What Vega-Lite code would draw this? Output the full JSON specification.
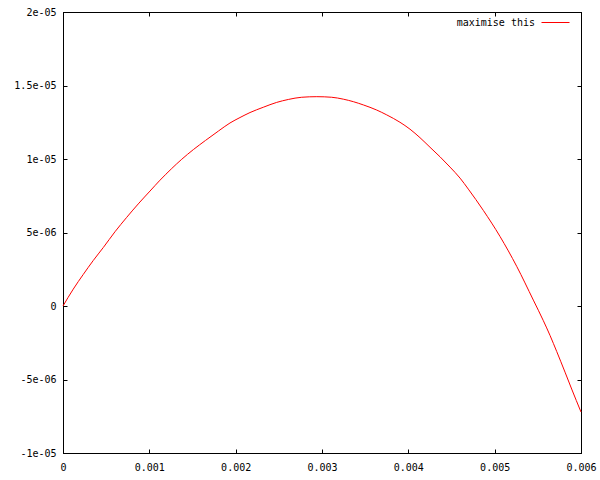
{
  "$schema": "https://vega.github.io/schema/vega-lite/v6.json",
  "width": 518,
  "height": 441,
  "autosize": {"type": "none"},
  "padding": {"left": 63, "top": 12, "right": 19, "bottom": 27},
  "background": "white",
  "config": {
    "view": {"stroke": "black", "strokeWidth": 1},
    "font": "DejaVu Sans Mono",
    "axis": {
      "domainColor": "black",
      "tickColor": "black",
      "labelColor": "black",
      "labelFont": "DejaVu Sans Mono",
      "labelFontSize": 10,
      "grid": false,
      "tickSize": -4,
      "title": null
    }
  },
  "data": {
    "values": [
      {"x": 0, "y": 0},
      {"x": 0.000119, "y": 1.15e-6},
      {"x": 0.000235, "y": 2.15e-6},
      {"x": 0.000351, "y": 3.1e-6},
      {"x": 0.000467, "y": 3.98e-6},
      {"x": 0.000602, "y": 5.05e-6},
      {"x": 0.000738, "y": 6.03e-6},
      {"x": 0.00088, "y": 7.0e-6},
      {"x": 0.001008, "y": 7.82e-6},
      {"x": 0.001124, "y": 8.56e-6},
      {"x": 0.001259, "y": 9.35e-6},
      {"x": 0.001375, "y": 9.98e-6},
      {"x": 0.00151, "y": 1.064e-5},
      {"x": 0.00165, "y": 1.126e-5},
      {"x": 0.0018, "y": 1.19e-5},
      {"x": 0.001934, "y": 1.245e-5},
      {"x": 0.00205, "y": 1.282e-5},
      {"x": 0.002166, "y": 1.316e-5},
      {"x": 0.00232, "y": 1.352e-5},
      {"x": 0.002475, "y": 1.385e-5},
      {"x": 0.00261, "y": 1.405e-5},
      {"x": 0.002765, "y": 1.42e-5},
      {"x": 0.00294, "y": 1.424e-5},
      {"x": 0.003112, "y": 1.42e-5},
      {"x": 0.003247, "y": 1.407e-5},
      {"x": 0.003363, "y": 1.39e-5},
      {"x": 0.003478, "y": 1.368e-5},
      {"x": 0.003634, "y": 1.333e-5},
      {"x": 0.00375, "y": 1.3e-5},
      {"x": 0.003903, "y": 1.25e-5},
      {"x": 0.004019, "y": 1.203e-5},
      {"x": 0.004135, "y": 1.145e-5},
      {"x": 0.004251, "y": 1.08e-5},
      {"x": 0.004367, "y": 1.015e-5},
      {"x": 0.004483, "y": 9.45e-6},
      {"x": 0.004599, "y": 8.7e-6},
      {"x": 0.004695, "y": 7.95e-6},
      {"x": 0.004869, "y": 6.5e-6},
      {"x": 0.005062, "y": 4.73e-6},
      {"x": 0.005255, "y": 2.7e-6},
      {"x": 0.005448, "y": 4.0e-7},
      {"x": 0.005564, "y": -1.0e-6},
      {"x": 0.005641, "y": -2.0e-6},
      {"x": 0.005719, "y": -3.1e-6},
      {"x": 0.005815, "y": -4.5e-6},
      {"x": 0.005892, "y": -5.65e-6},
      {"x": 0.006, "y": -7.21e-6}
    ]
  },
  "layer": [
    {
      "mark": {"type": "line", "strokeWidth": 1, "interpolate": "monotone"},
      "encoding": {
        "x": {
          "field": "x", "type": "quantitative",
          "scale": {"domain": [0, 0.006], "nice": false, "zero": false},
          "axis": {
            "orient": "bottom",
            "values": [0, 0.001, 0.002, 0.003, 0.004, 0.005, 0.006],
            "labelExpr": "datum.value == 0 ? '0' : format(datum.value, '.3f')",
            "labelPadding": 13,
            "labelFlush": false
          }
        },
        "y": {
          "field": "y", "type": "quantitative",
          "scale": {"domain": [-1e-5, 2e-5], "nice": false, "zero": false},
          "axis": {
            "orient": "left",
            "values": [-1e-5, -5e-6, 0, 5e-6, 1e-5, 1.5e-5, 2e-5],
            "labelExpr": "['-1e-05','-5e-06','0','5e-06','1e-05','1.5e-05','2e-05'][round(datum.value*2e5)+2]",
            "labelPadding": 11,
            "labelFlush": false
          }
        },
        "color": {
          "datum": "maximise this",
          "type": "nominal",
          "scale": {"range": ["#ff0000"]},
          "legend": {
            "title": null,
            "orient": "none",
            "legendX": 478,
            "legendY": -4,
            "symbolType": "stroke",
            "symbolSize": 784,
            "symbolStrokeWidth": 1,
            "labelAlign": "right",
            "labelOffset": -35,
            "labelFont": "DejaVu Sans Mono",
            "labelFontSize": 10,
            "labelColor": "black"
          }
        }
      }
    },
    {
      "mark": {"type": "line", "opacity": 0},
      "encoding": {
        "x": {
          "field": "x", "type": "quantitative",
          "scale": {"domain": [0, 0.006], "nice": false, "zero": false},
          "axis": {"orient": "top", "values": [0, 0.001, 0.002, 0.003, 0.004, 0.005, 0.006], "labels": false}
        },
        "y": {
          "field": "y", "type": "quantitative",
          "scale": {"domain": [-1e-5, 2e-5], "nice": false, "zero": false},
          "axis": {"orient": "right", "values": [-1e-5, -5e-6, 0, 5e-6, 1e-5, 1.5e-5, 2e-5], "labels": false}
        }
      }
    }
  ],
  "resolve": {"axis": {"x": "independent", "y": "independent"}}
}
